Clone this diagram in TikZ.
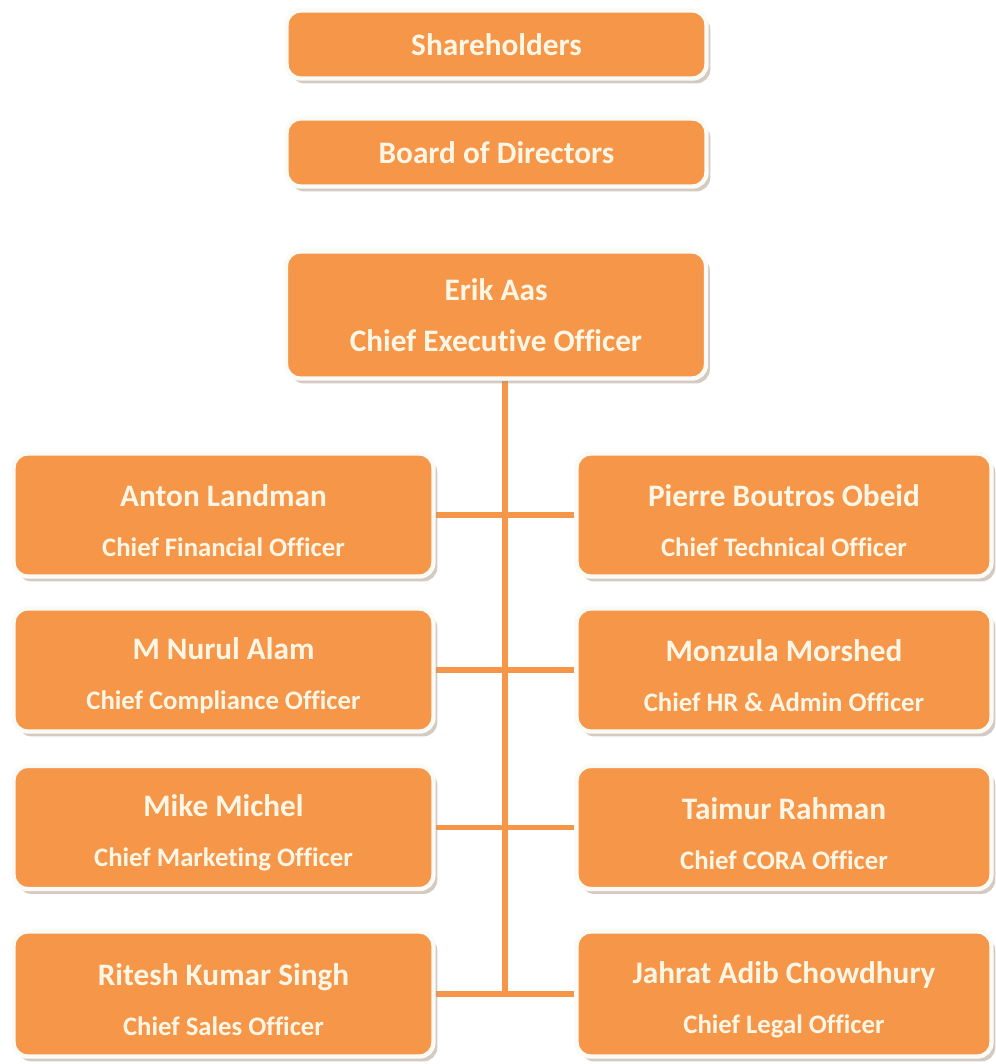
\documentclass[tikz,border=0pt]{standalone}
\usepackage{fontspec}
\setmainfont{Carlito}[Ligatures=NoCommon]
\usepackage{tikz}
\usetikzlibrary{shadows, % for the drop shadow under the boxes
                calc, %for the trunk point
                backgrounds,
                positioning}

\definecolor{boxorange}{RGB}{245,150,72}
\definecolor{textcream}{RGB}{255,246,230}
\definecolor{rimwhite}{RGB}{250,250,247}
\definecolor{shadowbrown}{RGB}{172,150,132}

% name line of an officer box (strut keeps all boxes alike)
\newcommand{\nm}[1]{{\fontsize{17.8}{29}\selectfont\rule{0pt}{19pt}#1}}

\begin{document}
\begin{tikzpicture}[x=0.02cm, y=-0.02cm,
    OrgBox/.style={draw=rimwhite, line width=2.5pt, fill=boxorange,
        rounded corners=0.28cm, text=textcream, align=center, inner sep=0pt,
        font=\bfseries\fontsize{15.2}{28.5}\selectfont,
        drop shadow={shadow xshift=2.2pt, shadow yshift=-2.8pt, fill=shadowbrown}},
    TopBox/.style={OrgBox, minimum width=8.4cm, minimum height=1.36cm,
        font=\bfseries\fontsize{17.8}{20}\selectfont},
    OfficerBox/.style={OrgBox, minimum width=8.4cm, minimum height=2.46cm},
    Link/.style={draw=boxorange, line width=3.4pt}
    ]
    \useasboundingbox (0,0) rectangle (995,1064);

    %top of the chart
    \node[TopBox] (share) at (496.5,44.5) {Shareholders};
    \node[TopBox] (board) at (496.5,152.5) {Board of Directors};
    \node[OfficerBox, minimum height=2.54cm,
          font=\bfseries\fontsize{17.8}{29}\selectfont] (ceo) at (496,315)
        {Erik Aas\\ Chief Executive Officer};

    %left column
    \node[OfficerBox] (cfo) at (223.5,515)   {\nm{Anton Landman}\\ Chief Financial Officer};
    \node[OfficerBox] (cco) at (223.5,670)   {\nm{M Nurul Alam}\\ Chief Compliance Officer};
    \node[OfficerBox] (cmo) at (223.5,827.5) {\nm{Mike Michel}\\ Chief Marketing Officer};
    \node[OfficerBox, minimum height=2.5cm] (cso) at (223.5,994)
        {\nm{Ritesh Kumar Singh}\\ Chief Sales Officer};

    %right column
    \node[OfficerBox, minimum width=8.3cm] (cto)  at (784,515)   {\nm{Pierre Boutros Obeid}\\ Chief Technical Officer};
    \node[OfficerBox, minimum width=8.3cm] (chro) at (784,670)   {\nm{Monzula Morshed}\\ Chief HR \& Admin Officer};
    \node[OfficerBox, minimum width=8.3cm] (cora) at (784,827.5) {\nm{Taimur Rahman}\\ Chief CORA Officer};
    \node[OfficerBox, minimum width=8.3cm, minimum height=2.5cm] (clo) at (784,994)
        {\nm{Jahrat Adib Chowdhury}\\ Chief Legal Officer};

    %connectors
    \begin{scope}[on background layer]
        \coordinate (trunk) at ($(cso.east)!.5!(clo.west)$);
        \draw[Link] (trunk) -- (trunk |- ceo.south);
        \foreach \l/\r in {cfo/cto, cco/chro, cmo/cora, cso/clo}
            \draw[Link] (\l.east) -- (\r.west);
    \end{scope}
\end{tikzpicture}
\end{document}
